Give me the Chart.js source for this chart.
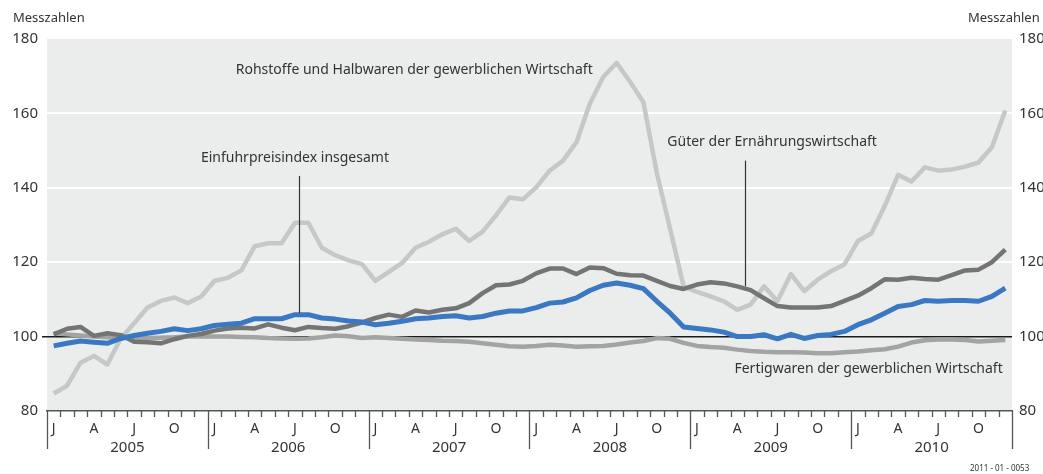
<!DOCTYPE html>
<html lang="de">
<head>
<meta charset="utf-8">
<title>Einfuhrpreisindex</title>
<script src="https://cdn.jsdelivr.net/npm/chart.js@4.4.1/dist/chart.umd.min.js"></script>
<style>
  html, body { margin: 0; padding: 0; background: #fff; }
  #wrap { position: relative; width: 1043px; height: 474px; }
</style>
</head>
<body>
<div id="wrap"><canvas id="chart" width="1043" height="474"></canvas></div>
<script>
(function () {
  'use strict';

  // categories
  const years = ['2005', '2006', '2007', '2008', '2009', '2010'];
  const monthLetters = ['J', '', '', 'A', '', '', 'J', '', '', 'O', '', ''];
  const yTicks = [80, 100, 120, 140, 160, 180];

  // series values, Jan 2005 .. Dec 2010 (Messzahlen)
  const insgesamt = [
    97.5, 98.2, 98.8, 98.5, 98.2, 99.5, 100.3, 100.9, 101.4, 102.1, 101.6, 102.1,
    103.0, 103.3, 103.6, 104.8, 104.8, 104.8, 105.9, 105.9, 105.0, 104.7, 104.2, 103.9,
    103.2, 103.6, 104.1, 104.8, 105.0, 105.4, 105.6, 105.0, 105.4, 106.3, 106.9, 106.9,
    107.8, 109.0, 109.3, 110.4, 112.4, 113.8, 114.4, 113.8, 112.9, 109.5, 106.3, 102.6,
    102.2, 101.8, 101.2, 100.0, 100.0, 100.5, 99.4, 100.6, 99.5, 100.3, 100.6, 101.4,
    103.2, 104.5, 106.3, 108.1, 108.6, 109.7, 109.5, 109.7, 109.7, 109.5, 110.8, 113.0
  ];
  const ernaehrung = [
    100.6, 102.1, 102.6, 100.2, 100.9, 100.4, 98.6, 98.5, 98.2, 99.3, 100.2, 100.7,
    101.6, 102.2, 102.4, 102.2, 103.3, 102.4, 101.7, 102.6, 102.3, 102.1, 102.8, 103.8,
    105.0, 105.9, 105.3, 107.0, 106.5, 107.2, 107.6, 109.0, 111.7, 113.8, 114.0, 115.0,
    117.0, 118.3, 118.3, 116.8, 118.6, 118.4, 116.9, 116.5, 116.4, 115.0, 113.6, 112.8,
    114.0, 114.6, 114.3, 113.5, 112.5, 110.3, 108.2, 107.8, 107.8, 107.8, 108.2, 109.6,
    111.0, 113.0, 115.4, 115.3, 115.8, 115.5, 115.3, 116.5, 117.8, 118.0, 120.0, 123.4
  ];
  const rohstoffe = [
    84.7, 86.8, 93.0, 94.8, 92.5, 99.5, 103.6, 107.8, 109.6, 110.5, 109.0, 110.8,
    115.0, 115.8, 117.8, 124.3, 125.1, 125.1, 130.6, 130.6, 123.9, 121.9, 120.5, 119.5,
    115.0, 117.4, 119.8, 123.9, 125.5, 127.5, 129.0, 125.7, 128.2, 132.6, 137.4, 136.9,
    140.1, 144.6, 147.3, 152.2, 162.6, 169.8, 173.6, 168.5, 163.0, 144.0, 128.8, 113.5,
    112.0, 110.8, 109.5, 107.2, 108.6, 113.5, 109.5, 116.8, 112.2, 115.3, 117.6, 119.4,
    125.7, 127.7, 135.1, 143.5, 141.7, 145.5, 144.6, 144.9, 145.7, 146.8, 150.9, 160.8
  ];
  const fertigwaren = [
    100.9, 100.6, 100.3, 100.0, 99.8, 99.7, 99.6, 99.6, 99.7, 99.8, 100.0, 100.0,
    100.0, 100.0, 99.9, 99.8, 99.6, 99.5, 99.4, 99.5, 99.8, 100.3, 100.1, 99.6,
    99.8, 99.6, 99.4, 99.2, 99.1, 98.9, 98.8, 98.6, 98.2, 97.8, 97.4, 97.3,
    97.5, 97.8, 97.6, 97.3, 97.4, 97.5, 97.9, 98.4, 98.8, 99.6, 99.4, 98.3,
    97.5, 97.2, 97.0, 96.5, 96.1, 95.9, 95.8, 95.8, 95.7, 95.5, 95.5, 95.8,
    96.0, 96.3, 96.6, 97.3, 98.4, 99.0, 99.2, 99.2, 99.1, 98.7, 98.9, 99.1
  ];

  const labels = [];
  years.forEach(y => {
    for (let m = 1; m <= 12; m++) labels.push(y + '-' + String(m).padStart(2, '0'));
  });

  const FONT = "'Noto Sans', 'DejaVu Sans', sans-serif";
  const TEXT = '#333333';

  // text labels with leader lines, anchored in data space (month index, value)
  const notes = [
    { text: 'Rohstoffe und Halbwaren der gewerblichen Wirtschaft', month: 26.9, value: 171.6 },
    { text: 'Einfuhrpreisindex insgesamt', month: 18.0, value: 148.1, lead: [18.3, 143.2, 106.3] },
    { text: 'Güter der Ernährungswirtschaft', month: 53.6, value: 152.2, lead: [51.6, 147.3, 113.6] },
    { text: 'Fertigwaren der gewerblichen Wirtschaft', month: 60.8, value: 91.4 }
  ];

  const frame = {
    id: 'frame',
    beforeDraw(chart) {
      const { ctx, chartArea: a } = chart;
      ctx.save();
      ctx.fillStyle = '#ebecec';
      ctx.fillRect(a.left, a.top, a.right - a.left, a.bottom - a.top);
      ctx.restore();
    },
    afterDraw(chart) {
      const { ctx, chartArea: a } = chart;
      const xs = chart.scales.x;
      const ys = chart.scales.y;
      const step = xs.getPixelForValue(1) - xs.getPixelForValue(0);

      ctx.save();
      // month ticks and year separators
      ctx.strokeStyle = '#555';
      ctx.lineWidth = 1.3;
      for (let i = 0; i <= labels.length; i++) {
        const x = Math.round(xs.getPixelForValue(0) - step / 2 + i * step) + 0.5;
        const long = i % 12 === 0;
        ctx.beginPath();
        ctx.moveTo(x, a.bottom);
        ctx.lineTo(x, a.bottom + (long ? 38 : 6));
        ctx.stroke();
      }

      // annotations
      ctx.fillStyle = TEXT;
      ctx.font = '14px ' + FONT;
      ctx.textAlign = 'center';
      ctx.textBaseline = 'middle';
      notes.forEach(n => {
        ctx.fillText(n.text, xs.getPixelForValue(n.month), ys.getPixelForValue(n.value));
        if (n.lead) {
          const x = Math.round(xs.getPixelForValue(n.lead[0])) + 0.5;
          ctx.strokeStyle = '#333';
          ctx.lineWidth = 1.2;
          ctx.beginPath();
          ctx.moveTo(x, ys.getPixelForValue(n.lead[1]));
          ctx.lineTo(x, ys.getPixelForValue(n.lead[2]));
          ctx.stroke();
        }
      });

      // unit captions
      ctx.font = '13px ' + FONT;
      ctx.textAlign = 'left';
      ctx.fillText('Messzahlen', 13, 18);
      ctx.fillText('Messzahlen', 968, 18);
      ctx.font = '8px ' + FONT;
      ctx.fillText('2011 - 01 - 0053', 970, 469);
      ctx.restore();
    }
  };

  const gridColor = ctx => {
    const v = ctx.tick && ctx.tick.value;
    if (v === 100) return '#1a1a1a';
    if (v === 120 || v === 140 || v === 160) return '#ffffff';
    return 'rgba(0,0,0,0)';
  };

  new Chart(document.getElementById('chart').getContext('2d'), {
    type: 'line',
    data: {
      labels: labels,
      datasets: [
        { label: 'Einfuhrpreisindex insgesamt', data: insgesamt, borderColor: '#3b78c3', borderWidth: 5 },
        { label: 'Güter der Ernährungswirtschaft', data: ernaehrung, borderColor: '#747474', borderWidth: 4.5 },
        { label: 'Rohstoffe und Halbwaren der gewerblichen Wirtschaft', data: rohstoffe, borderColor: '#c6c7c8', borderWidth: 4.5 },
        { label: 'Fertigwaren der gewerblichen Wirtschaft', data: fertigwaren, borderColor: '#a3a3a3', borderWidth: 4.5 }
      ].map(d => Object.assign(d, {
        pointRadius: 0,
        tension: 0,
        fill: false,
        borderJoinStyle: 'round'
      }))
    },
    options: {
      responsive: false,
      animation: false,
      layout: { padding: { top: 39, left: 0, right: 0, bottom: 0 } },
      plugins: { legend: { display: false }, tooltip: { enabled: false } },
      scales: {
        x: {
          type: 'category',
          offset: true,
          weight: 0,
          grid: { display: false, drawTicks: false },
          border: { display: true, color: '#555', width: 1.5 },
          ticks: {
            autoSkip: false,
            maxRotation: 0,
            padding: 10,
            color: TEXT,
            font: { family: FONT, size: 14 },
            callback: (v, i) => monthLetters[i % 12]
          },
          afterFit: s => { s.height = 27; }
        },
        x2: {
          type: 'category',
          labels: years,
          position: 'bottom',
          offset: true,
          weight: 1,
          grid: { display: false, drawTicks: false },
          border: { display: false },
          ticks: { padding: 1, color: TEXT, font: { family: FONT, size: 15 } },
          afterFit: s => { s.height = 36; }
        },
        y: {
          min: 80,
          max: 180,
          afterBuildTicks: s => { s.ticks = yTicks.map(v => ({ value: v })); },
          grid: {
            color: gridColor,
            tickColor: gridColor,
            lineWidth: ctx => (ctx.tick && ctx.tick.value === 100 ? 1.5 : 2),
            tickLength: 5
          },
          border: { display: false },
          ticks: { padding: 4, color: TEXT, font: { family: FONT, size: 15 } },
          afterFit: s => { s.width = 47; }
        },
        y2: {
          position: 'right',
          min: 80,
          max: 180,
          afterBuildTicks: s => { s.ticks = yTicks.map(v => ({ value: v })); },
          grid: { display: false, drawTicks: false },
          border: { display: false },
          ticks: { padding: 7, color: TEXT, font: { family: FONT, size: 15 } },
          afterFit: s => { s.width = 31; }
        }
      }
    },
    plugins: [frame]
  });
})();
</script>
</body>
</html>
